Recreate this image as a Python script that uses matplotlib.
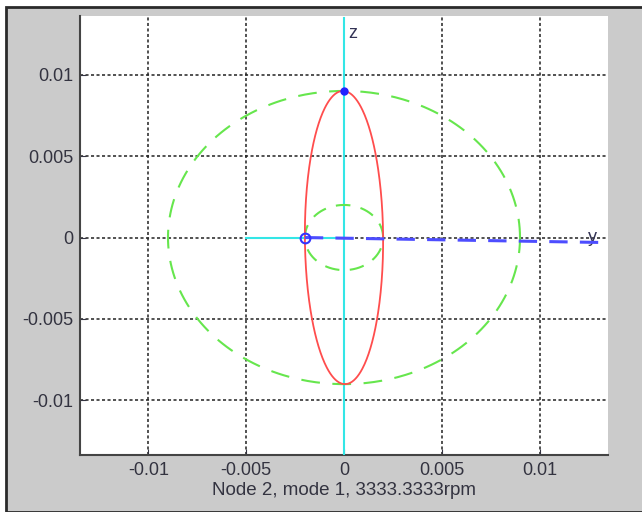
import numpy as np
import matplotlib
matplotlib.use('Agg')
import matplotlib.pyplot as plt
from matplotlib.patches import Rectangle

# orbit / reference circles (radii)
outer_r = 0.009
inner_r = 0.002
orbit_a = 0.002     # half width of the red orbit
orbit_b = 0.009     # half height of the red orbit
# rotor axis line (blue dashed), from start node to "y" label
axis_x = [-0.002, 0.013]
axis_y = [0.0, -0.0003]
start_pt = (-0.002, 0.0)
top_pt = (0.0, 0.009)
# cyan reference axes
zaxis_x = [0.0, 0.0]
zaxis_y = [-0.0135, 0.0135]
yaxis_x = [-0.005, 0.0]
yaxis_y = [0.0, 0.0]
ticks = [-0.01, -0.005, 0, 0.005, 0.01]
tick_labels = ['-0.01', '-0.005', '0', '0.005', '0.01']
xlabel = 'Node 2, mode 1, 3333.3333rpm'

plt.rcParams['font.family'] = ['Liberation Sans', 'DejaVu Sans']
FS = 13

fig = plt.figure(figsize=(6.42, 5.12), dpi=100, facecolor='white')
fig.add_artist(Rectangle((6 / 642, 0), 1.0, 1 - 7 / 512, transform=fig.transFigure,
                         facecolor='#cbcbcb', edgecolor='#2a2a2a', linewidth=2, zorder=-10))
ax = fig.add_axes([80 / 642, 57 / 512, 528 / 642, 439 / 512])
ax.set_facecolor('white')

t = np.linspace(0, 2 * np.pi, 400)
ax.plot(zaxis_x, zaxis_y, color='#33e6e6', lw=1.5, zorder=3)
ax.plot(yaxis_x, yaxis_y, color='#33e6e6', lw=1.5, zorder=3)
ax.plot(outer_r * np.cos(t), outer_r * np.sin(t), color='#66e64d', lw=1.5,
        dashes=(9, 6), zorder=4)
ax.plot(inner_r * np.cos(t), inner_r * np.sin(t), color='#66e64d', lw=1.5,
        dashes=(7, 5), zorder=4)
ax.plot(orbit_a * np.sin(t) - 0.00005 * np.cos(t), orbit_b * np.cos(t),
        color='#ff4d4d', lw=1.3, zorder=5)
ax.plot(axis_x, axis_y, color='#4d4dff', lw=2.2, dashes=(6, 4), zorder=6)
ax.plot(*start_pt, 'o', ms=7, mfc='none', mec='#3333ff', mew=1.5, zorder=7)
ax.plot(*top_pt, 'o', ms=5, color='#2222ff', zorder=7)
ax.text(0.0002, 0.0125, 'z', fontsize=FS, color='#333355', ha='left', va='center')
ax.text(0.0127, 0.0, 'y', fontsize=FS, color='#333355', ha='center', va='center')

ax.set_xlim(-0.0135, 0.0135)
ax.set_ylim(-0.01335, 0.0136)
ax.set_xticks(ticks)
ax.set_xticklabels(tick_labels)
ax.set_yticks(ticks)
ax.set_yticklabels(tick_labels)
ax.grid(True, color='#222222', linestyle=(0, (2, 1.6)), linewidth=1.1)
ax.set_axisbelow(True)
ax.tick_params(direction='in', length=4, labelsize=FS, colors='#333340', pad=5)
for s in ['top', 'right']:
    ax.spines[s].set_visible(False)
for s in ['left', 'bottom']:
    ax.spines[s].set_color('#444444')
    ax.spines[s].set_linewidth(1.5)
ax.set_xlabel(xlabel, fontsize=FS + 0.5, labelpad=2, color='#333340')

fig.savefig('out.png', dpi=100, facecolor=fig.get_facecolor())
